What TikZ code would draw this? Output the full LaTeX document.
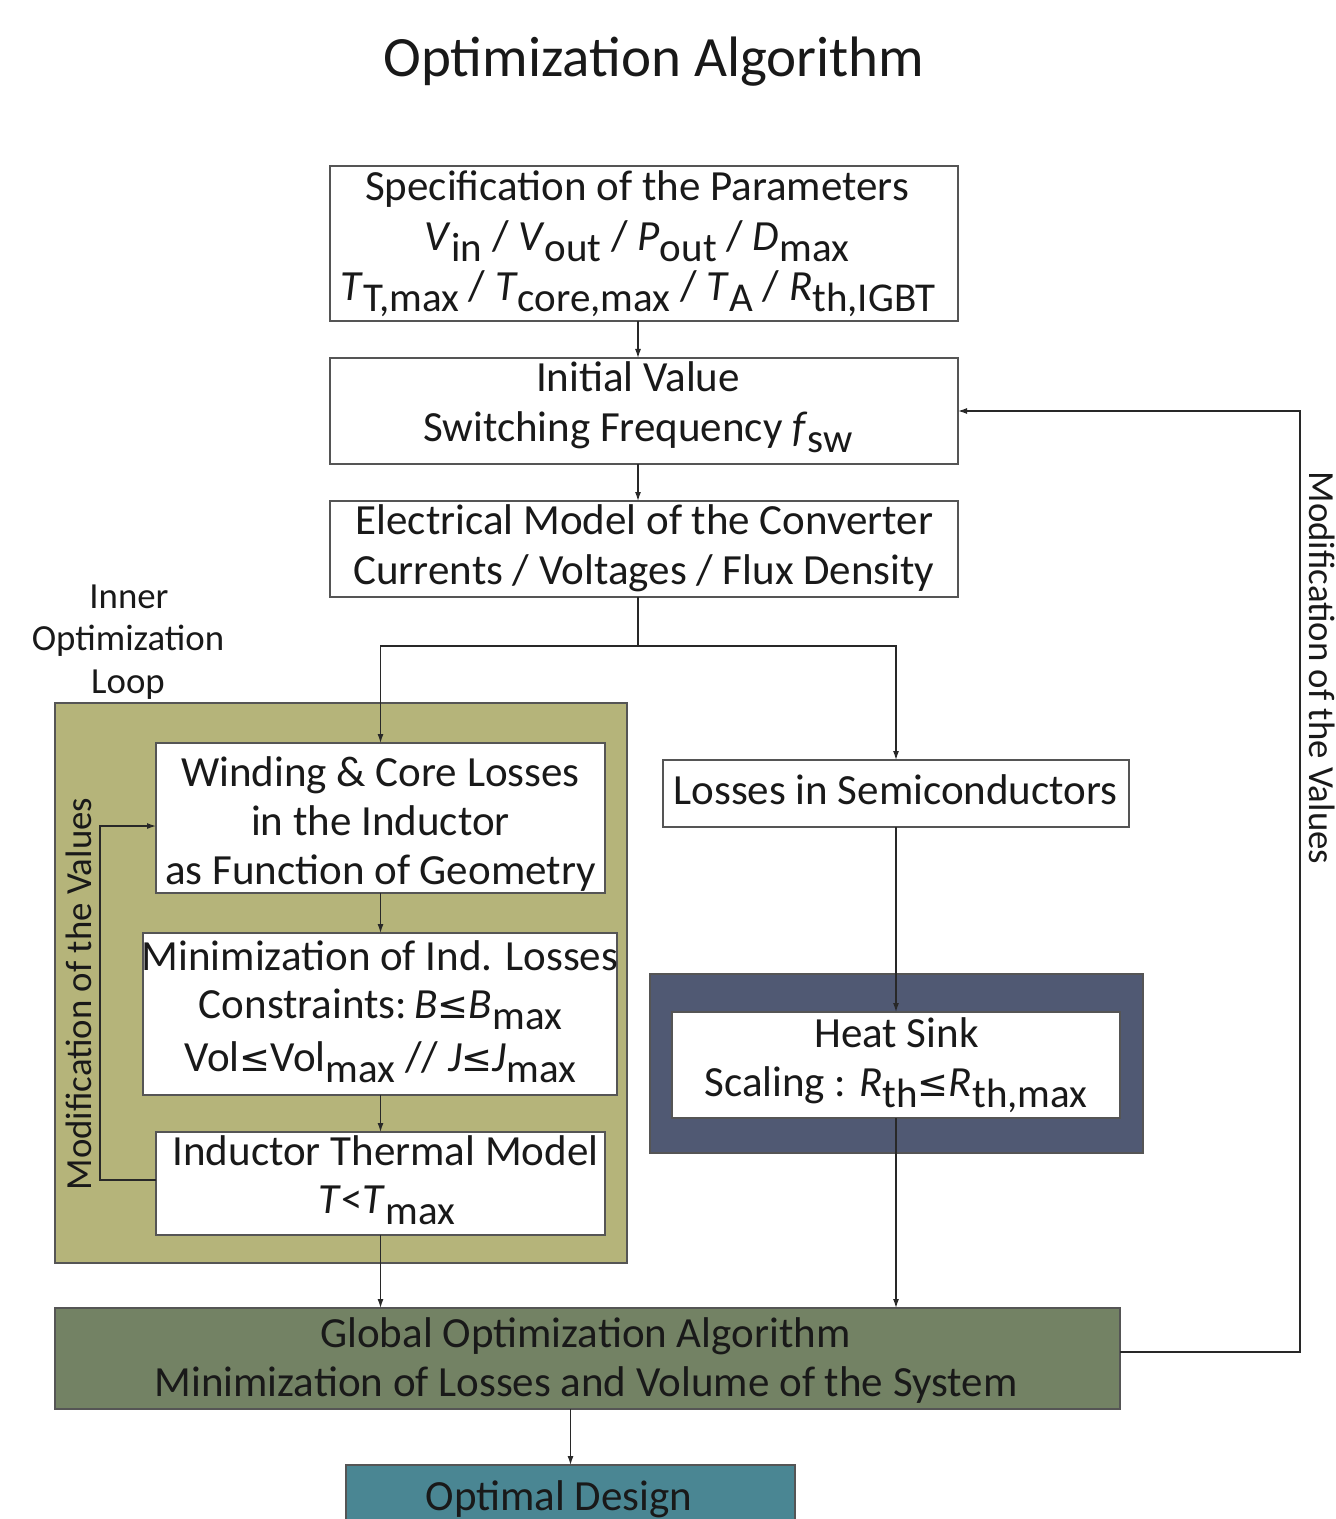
\documentclass[tikz,border=0pt]{standalone}
\usepackage{fontspec}
\setmainfont{Carlito}
\newfontfamily\symf{DejaVu Sans}
\usetikzlibrary{arrows.meta}
\definecolor{olivebg}{RGB}{181,180,122}
\definecolor{sinkbg}{RGB}{80,89,115}
\definecolor{globbg}{RGB}{115,130,100}
\definecolor{optbg}{RGB}{74,134,147}
\definecolor{edgec}{RGB}{85,85,85}
\definecolor{linec}{RGB}{40,40,40}
\definecolor{textc}{RGB}{25,25,25}
\newcommand\sbs[1]{\raisebox{-5.5pt}[0pt][0pt]{\fontsize{20.5}{21}\selectfont #1}}
\newcommand\leqsym{{\symf\fontsize{18.5}{18.5}\selectfont ≤}}
\begin{document}
\begin{tikzpicture}[x=0.5pt,y=-0.5pt,
  box/.style={draw=edgec, line width=0.65pt, fill=white, inner sep=0pt, outer sep=0pt},
  txt/.style={anchor=base, inner sep=0pt, outer sep=0pt, text=textc, font=\fontsize{21.5}{25}\selectfont},
  lbl/.style={anchor=base, inner sep=0pt, outer sep=0pt, text=textc, font=\fontsize{18.4}{21}\selectfont},
  arr/.style={draw=linec, line width=0.6pt, -{Latex[length=4.5pt,width=3pt]}},
  ln/.style={draw=linec, line width=0.6pt}]
\useasboundingbox (0,0) rectangle (1336,1519);
\clip (0,0) rectangle (1336,1519);

% title
\node[txt, font=\fontsize{28.5}{32}\selectfont] (title) at (654,77) {Optimization Algorithm};

% boxes
\node[box, minimum width=314pt, minimum height=77.5pt] (b1) at (644,243.5) {};
\node[box, minimum width=314pt, minimum height=53pt] (b2) at (644,411) {};
\node[box, minimum width=314pt, minimum height=48pt] (b3) at (644,549) {};
\node[box, fill=olivebg, minimum width=286pt, minimum height=280pt] (olive) at (341,983) {};
\node[box, minimum width=224.5pt, minimum height=75pt] (wind) at (380.5,818) {};
\node[box, minimum width=237pt, minimum height=81pt] (min) at (380,1014) {};
\node[box, minimum width=224.5pt, minimum height=51.5pt] (therm) at (380.5,1183.5) {};
\node[box, minimum width=233pt, minimum height=33.5pt] (loss) at (896,793.5) {};
\node[box, fill=sinkbg, minimum width=246.5pt, minimum height=89.5pt] (hsout) at (896.5,1063.5) {};
\node[box, minimum width=224pt, minimum height=53pt] (hsin) at (896,1065) {};
\node[box, fill=globbg, minimum width=532.5pt, minimum height=50.5pt] (glob) at (587.5,1358.5) {};
\node[box, fill=optbg, minimum width=224.5pt, minimum height=40pt] (opt) at (570.5,1505) {};

% texts
\node[txt] (t1a) at (637,201) {Specification of the Parameters};
\node[txt] (t1b) at (637,251) {\textit{V}\sbs{in} / \textit{V}\sbs{out} / \textit{P}\sbs{out} / \textit{D}\sbs{max}};
\node[txt] (t1c) at (638,301) {\textit{T}\sbs{T,max} / \textit{T}\sbs{core,max} / \textit{T}\sbs{A} / \textit{R}\sbs{th,IGBT}};
\node[txt] (t2a) at (638,392) {Initial Value};
\node[txt] (t2b) at (638,441) {Switching Frequency \textit{f}\sbs{sw}};
\node[txt] (t3a) at (644.5,534) {Electrical Model of the Converter};
\node[txt] (t3b) at (644,584) {Currents / Voltages / Flux Density};

\node[lbl] (il1) at (129,608) {Inner};
\node[lbl] (il2) at (128,650) {Optimization};
\node[lbl] (il3) at (128,693) {Loop};

\node[txt] (t4a) at (380.5,786) {Winding \& Core Losses};
\node[txt] (t4b) at (380.5,835) {in the Inductor};
\node[txt] (t4c) at (380.5,884) {as Function of Geometry};
\node[txt] (t5a) at (380,970) {Minimization of Ind. Losses};
\node[txt] (t5b) at (380.5,1018) {Constraints:\,\textit{B}\leqsym\textit{B}\sbs{max}};
\node[txt] (t5c) at (380.5,1071) {Vol\leqsym Vol\sbs{max} // \textit{J}\leqsym\textit{J}\sbs{max}};
\node[txt] (t6a) at (385.5,1165) {Inductor Thermal Model};
\node[txt] (t6b) at (387,1213) {\textit{T}<\textit{T}\sbs{max}};
\node[txt] (t7) at (895.5,804) {Losses in Semiconductors};
\node[txt] (t8a) at (896.5,1047) {Heat Sink};
\node[txt] (t8b) at (896,1096) {Scaling : \textit{R}\sbs{th}\leqsym\textit{R}\sbs{th,max}};
\node[txt] (t9a) at (585.5,1347) {Global Optimization Algorithm};
\node[txt] (t9b) at (586,1396) {Minimization of Losses and Volume of the System};
\node[txt] (t10) at (559,1510) {Optimal Design};

\node[lbl, rotate=90] (lmod) at (91,994) {Modification of the Values};
\node[lbl, rotate=-90] (rmod) at (1309,668) {Modification of the Values};

% connectors
\coordinate (cx) at (638,0);
\coordinate (split) at (638,646);
\coordinate (rl) at (1300,1352);
\coordinate (ll1) at (100,1180);
\coordinate (ll2) at (100,826);

\draw[arr] (b1.south -| cx) -- (b2.north -| cx);
\draw[arr] (b2.south -| cx) -- (b3.north -| cx);
\draw[ln] (b3.south -| cx) -- (split);
\draw[arr] (split) -| (wind.north);
\draw[arr] (split) -| (loss.north);
\draw[arr] (wind.south) -- (wind.south |- min.north);
\draw[arr] (min.south -| wind.south) -- (therm.north);
\draw[arr] (therm.south) -- (therm.south |- glob.north);
\draw[arr] (loss.south) -- (loss.south |- hsin.north);
\draw[arr] (hsin.south -| loss.south) -- (loss.south |- glob.north);
\draw[arr] (opt.north |- glob.south) -- (opt.north);
\draw[arr] (glob.east |- rl) -- (rl) |- (b2.east);
\draw[arr] (therm.west |- ll1) -- (ll1) -- (ll2) -- (wind.west |- ll2);
\end{tikzpicture}
\end{document}
